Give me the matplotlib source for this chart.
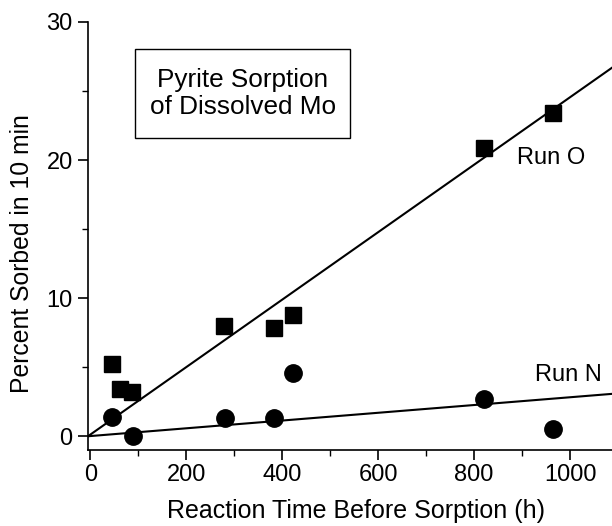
import matplotlib
matplotlib.use("Agg")
import matplotlib.pyplot as plt
import numpy as np
from matplotlib.patches import Rectangle
from matplotlib.ticker import MultipleLocator

plt.rcParams['font.family'] = ['Liberation Sans', 'DejaVu Sans']

# Run O (squares)
run_o_x = [44, 61, 87, 279, 382, 422, 820, 964]
run_o_y = [5.2, 3.4, 3.2, 8.0, 7.85, 8.8, 20.9, 23.4]
# Run N (circles)
run_n_x = [45, 88, 280, 382, 422, 820, 965]
run_n_y = [1.4, 0.02, 1.35, 1.35, 4.55, 2.7, 0.55]
# fitted lines: slope, intercept
fit_o = (0.02443, 0.12)
fit_n = (0.00281, 0.01)

fig = plt.figure(figsize=(6.12, 5.26), dpi=100)
ax = fig.add_axes([88/612, 76/526, 524/612, 428/526])

xl = np.array([-5, 1087.5])
ax.plot(xl, fit_o[0]*xl + fit_o[1], color='black', lw=1.5, zorder=2)
ax.plot(xl, fit_n[0]*xl + fit_n[1], color='black', lw=1.5, zorder=2)
ax.plot(run_o_x, run_o_y, 's', color='black', ms=11.5, zorder=3, clip_on=False)
ax.plot(run_n_x, run_n_y, 'o', color='black', ms=12.5, zorder=3, clip_on=False)

ax.set_xlim(-5, 1087.5)
ax.set_ylim(-1.0, 30)
ax.spines['top'].set_visible(False)
ax.spines['right'].set_visible(False)
ax.spines['left'].set_bounds(-1.0, 30)
for s in ('left', 'bottom'):
    ax.spines[s].set_linewidth(1.2)

ax.xaxis.set_major_locator(MultipleLocator(200))
ax.xaxis.set_minor_locator(MultipleLocator(100))
ax.yaxis.set_major_locator(MultipleLocator(10))
ax.yaxis.set_minor_locator(MultipleLocator(5))
ax.tick_params(which='major', direction='out', length=7, width=1.2, labelsize=17, pad=4)
ax.tick_params(which='minor', direction='out', length=4, width=1.0)
ax.tick_params(axis='x', which='major', pad=3)

ax.set_xlabel('Reaction Time Before Sorption (h)', fontsize=18, va='center')
ax.set_ylabel('Percent Sorbed in 10 min', fontsize=17.8, va='center')
ax.xaxis.set_label_coords(0.511, -0.1425)
ax.yaxis.set_label_coords(-0.126, 0.46)

ax.add_patch(Rectangle((0.0897, 0.729), 0.5 - 0.0897, 0.937 - 0.729,
                       transform=ax.transAxes, fill=False, lw=1.0, ec='black'))
ax.text(0.295, 0.833, 'Pyrite Sorption\nof Dissolved Mo', transform=ax.transAxes,
        ha='center', va='center', fontsize=18.8, linespacing=1.2)
ax.text(0.8836, 0.682, 'Run O', transform=ax.transAxes, ha='center', va='center', fontsize=17)
ax.text(0.916, 0.176, 'Run N', transform=ax.transAxes, ha='center', va='center', fontsize=17)

fig.savefig('out.png', dpi=100)
